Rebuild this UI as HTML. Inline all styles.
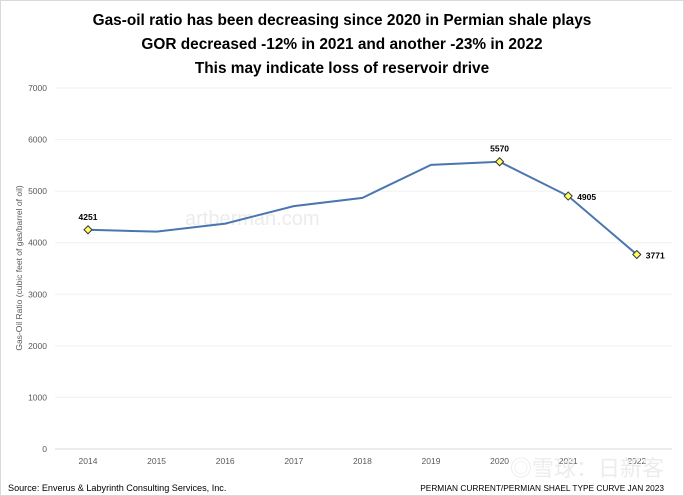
<!DOCTYPE html>
<html><head><meta charset="utf-8"><style>
body{margin:0;background:#fff;}
svg{display:block;font-family:"Liberation Sans","Noto Sans CJK SC",sans-serif;}
</style></head><body>
<svg id="c" width="684" height="496" viewBox="0 0 684 496">
<rect x="0.5" y="0.5" width="683" height="495" fill="#fff" stroke="#d9d9d9"/>
<g font-weight="bold" font-size="15.4" text-anchor="middle" fill="#000">
<text x="342" y="25">Gas-oil ratio has been decreasing since 2020 in Permian shale plays</text>
<text x="342" y="49">GOR decreased -12% in 2021 and another -23% in 2022</text>
<text x="342" y="73">This may indicate loss of reservoir drive</text>
</g>
<text transform="translate(22,268) rotate(-90)" text-anchor="middle" font-size="8.5" fill="#595959">Gas-Oil Ratio (cubic feet of gas/barrel of oil)</text>
<text x="185" y="225" font-size="20" fill="#ececec">artberman.com</text>
<g id="axes"></g>
<g id="marks"></g>
<text x="8" y="491" font-size="9.1" fill="#000">Source:  Enverus &amp; Labyrinth Consulting Services, Inc.</text>
<text x="664" y="491" font-size="8.3" fill="#000" text-anchor="end">PERMIAN CURRENT/PERMIAN SHAEL TYPE CURVE JAN 2023</text>
<text x="510" y="476" font-size="22" fill="#ececec">◎雪球：日新客</text>
</svg>
<script>
const years=[2014,2015,2016,2017,2018,2019,2020,2021,2022];
const gor=[4251,4215,4370,4710,4870,5510,5570,4905,3771];
const labeled=[0,6,7,8];
const yTicks=[0,1000,2000,3000,4000,5000,6000,7000];
const NS="http://www.w3.org/2000/svg";
const x0=88,dx=68.6,yb=449,yt=88,ymax=7000;
const X=i=>x0+i*dx, Y=v=>yb-(v/ymax)*(yb-yt);
function el(t,a,p){const e=document.createElementNS(NS,t);for(const k in a)e.setAttribute(k,a[k]);p.appendChild(e);return e;}
const ax=document.getElementById('axes'),mk=document.getElementById('marks');
yTicks.forEach(v=>{
 if(v>0){const g=el('line',{x1:55,x2:672,y1:Y(v),y2:Y(v),stroke:'#f0f0f0'},ax);
 
 }
 const t=el('text',{x:47,y:Y(v)+3,'text-anchor':'end','font-size':8.5,fill:'#595959'},ax);t.textContent=v;
 
 
});
const base=el('line',{x1:55,x2:672,y1:yb,y2:yb,stroke:'#d9d9d9'},ax);


years.forEach((y,i)=>{const t=el('text',{x:X(i),y:464,'text-anchor':'middle','font-size':8.5,fill:'#595959'},ax);t.textContent=y;
 
 });
const line=el('polyline',{points:gor.map((v,i)=>X(i)+','+Y(v)).join(' '),fill:'none',stroke:'#4a76b0','stroke-width':2},mk);


labeled.forEach(i=>{
 const cx=X(i),cy=Y(gor[i]);
 const d=el('polygon',{points:`${cx},${cy-4} ${cx+4},${cy} ${cx},${cy+4} ${cx-4},${cy}`,fill:'#ffff66',stroke:'#333','stroke-width':1},mk);
 
 
 const last=i===gor.length-1, side=i===7;
 const t=el('text',{x:last?cx+9:(side?cx+9:cx),y:last||side?cy+4:cy-10,'text-anchor':last||side?'start':'middle','font-size':8.5,'font-weight':'bold',fill:'#000'},mk);
 t.textContent=gor[i];
 
 
});
</script>
</body></html>
